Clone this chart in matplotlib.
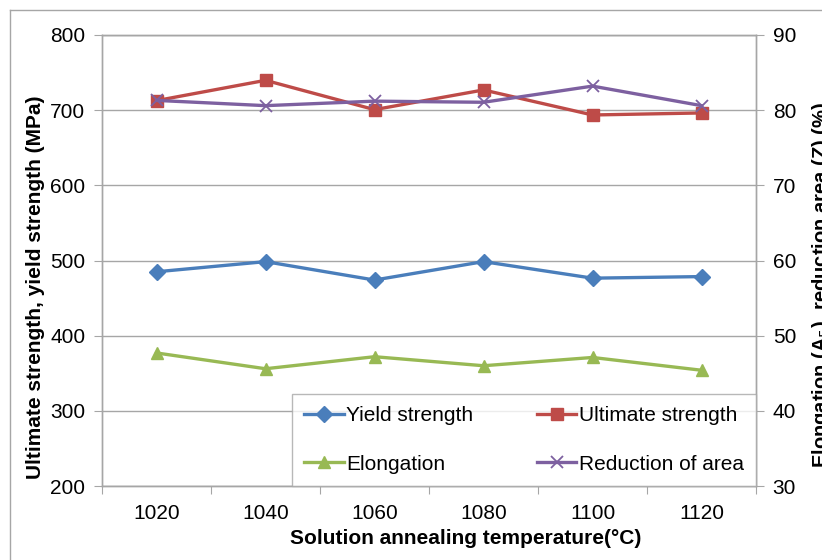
import matplotlib
matplotlib.use("Agg")
import matplotlib.pyplot as plt
from matplotlib.lines import Line2D

temps = ["1020", "1040", "1060", "1080", "1100", "1120"]
yield_strength = [485, 498.5, 474, 498.5, 476.5, 478.6]
ultimate_strength = [712.7, 739.7, 700.7, 726.9, 693.6, 696.3]
elongation = [47.7, 45.6, 47.2, 46.0, 47.1, 45.4]
reduction_area = [81.3, 80.6, 81.2, 81.05, 83.2, 80.6]

plt.rcParams['font.family'] = ['Liberation Sans', 'DejaVu Sans']
grey = '#a6a6a6'
fs = 15

fig = plt.figure(figsize=(8.22, 5.6), dpi=100, facecolor='white')
ax = fig.add_axes([102 / 822, 74 / 560, 654 / 822, 451 / 560])
ax2 = ax.twinx()

x = list(range(len(temps)))
l1, = ax.plot(x, yield_strength, color='#4a7ebb', lw=2.4, marker='D', ms=8,
              label='Yield strength')
l2, = ax.plot(x, ultimate_strength, color='#be4b48', lw=2.4, marker='s', ms=8.5,
              label='Ultimate strength')
l3, = ax2.plot(x, elongation, color='#98b954', lw=2.4, marker='^', ms=9,
               label='Elongation')
l4, = ax2.plot(x, reduction_area, color='#7d60a0', lw=2.4, marker='x', ms=9,
               mew=1.3, label='Reduction of area')

ax.set_xlim(-0.5, len(temps) - 0.5)
ax.set_ylim(200, 800)
ax.set_yticks(range(200, 801, 100))
ax2.set_ylim(30, 90)
ax2.set_yticks(range(30, 91, 10))

# category ticks between groups, labels at centres
ax.set_xticks([i - 0.5 for i in range(len(temps) + 1)])
ax.set_xticklabels([])
ax.set_xticks(x, minor=True)
ax.set_xticklabels(temps, minor=True)
ax.tick_params(axis='x', which='major', length=6, color=grey, direction='out')
ax.tick_params(axis='x', which='minor', length=0, pad=13, labelsize=fs)
ax.tick_params(axis='y', length=6, color=grey, labelsize=fs, pad=6)
ax2.tick_params(axis='y', length=6, color=grey, labelsize=fs, pad=6)

ax.grid(axis='y', color=grey, lw=1)
ax.set_axisbelow(True)
for a in (ax, ax2):
    for s in a.spines.values():
        s.set_color(grey)
        s.set_linewidth(1)

ax.set_ylabel('Ultimate strength, yield strength (MPa)', fontsize=fs,
              fontweight='bold', labelpad=4)
ax.yaxis.label.set_y(0.441)
ax2.set_ylabel('Elongation (A$_5$), reduction area (Z) (%)', fontsize=14.5,
               fontweight='bold', labelpad=10)
ax2.yaxis.label.set_y(0.446)
ax.set_xlabel('Solution annealing temperature(\u00b0C)', fontsize=15,
              fontweight='bold', labelpad=4)
ax.xaxis.label.set_x(0.5566)

# legend filled row by row like the original
leg = ax2.legend([l1, l3, l2, l4],
                 ['Yield strength', 'Elongation', 'Ultimate strength', 'Reduction of area'],
                 loc='lower left', bbox_to_anchor=(0.2905, 0.0, 0.7095, 0.215),
                 mode='expand', ncol=2, fontsize=fs, frameon=True, fancybox=False,
                 edgecolor=grey, handlelength=1.9, handletextpad=0.1,
                 borderaxespad=0, borderpad=0.6, labelspacing=1.4, columnspacing=1.0)
leg.get_frame().set_linewidth(1)

# outer chart border (left and top edges visible)
fig.add_artist(Line2D([10 / 822, 10 / 822], [0, 1 - 10 / 560], color=grey, lw=1,
                      transform=fig.transFigure))
fig.add_artist(Line2D([10 / 822, 1], [1 - 10 / 560, 1 - 10 / 560], color=grey, lw=1,
                      transform=fig.transFigure))

fig.savefig('out.png', dpi=100)
